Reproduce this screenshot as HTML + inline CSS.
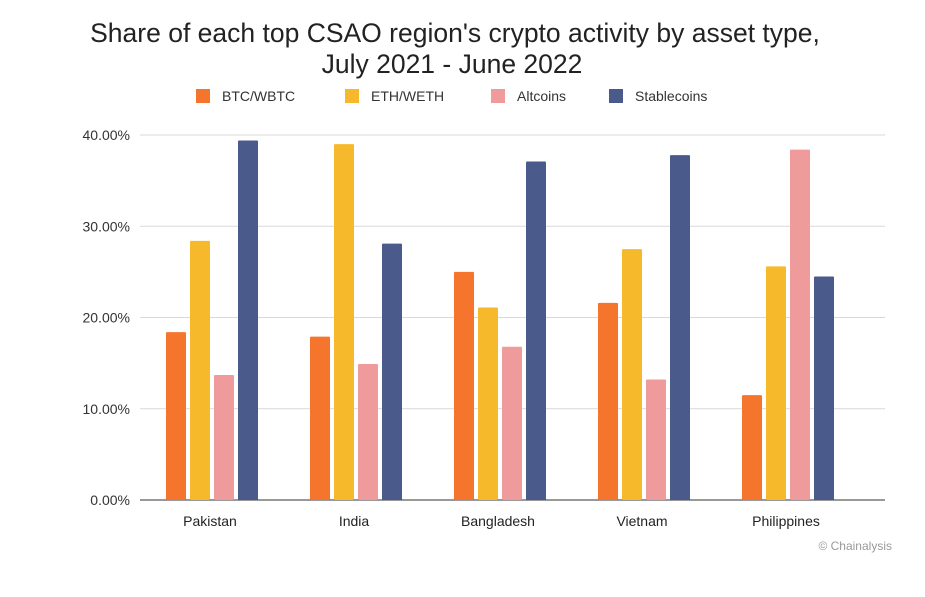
<!DOCTYPE html>
<html><head><meta charset="utf-8"><style>
body{margin:0;background:#fff;font-family:"Liberation Sans",Arial,sans-serif;}
</style></head><body>
<svg width="925" height="592" xmlns="http://www.w3.org/2000/svg" font-family="Liberation Sans, Arial, sans-serif">
<rect width="925" height="592" fill="#fff"/>
<text x="455" y="42" text-anchor="middle" font-size="26.5" fill="#222">Share of each top CSAO region's crypto activity by asset type,</text>
<text x="452" y="73" text-anchor="middle" font-size="26.5" fill="#222">July 2021 - June 2022</text>
<g id="legend"></g>
<g id="grid"></g>
<g id="bars"></g>
<g id="xlabels"></g>
<text x="892" y="550" text-anchor="end" font-size="12" fill="#999">© Chainalysis</text>
</svg>
<script>
const categories=["Pakistan","India","Bangladesh","Vietnam","Philippines"];
const seriesNames=["BTC/WBTC","ETH/WETH","Altcoins","Stablecoins"];
const btc=[18.4,17.9,25.0,21.6,11.5];
const eth=[28.4,39.0,21.1,27.5,25.6];
const alt=[13.7,14.9,16.8,13.2,38.4];
const stable=[39.4,28.1,37.1,37.8,24.5];
const yTicks=[0,10,20,30,40];
const series=[btc,eth,alt,stable];
const colors=["#f4752b","#f6b92b","#ef9b9b","#4a5a8a"];
const NS="http://www.w3.org/2000/svg";
function mk(t,a,p){const e=document.createElementNS(NS,t);for(const k in a)e.setAttribute(k,a[k]);p.appendChild(e);return e;}
const y0=500,pxPer=9.125;
function yS(v){return y0-v*pxPer;}
function xC(i){return 212+i*144;}
const grid=document.getElementById('grid');
yTicks.forEach(t=>{
 const l=mk('line',{x1:140,x2:885,y1:yS(t),y2:yS(t),stroke:t===0?'#333':'#d9d9d9','stroke-width':1},grid);
 
 
 const tx=mk('text',{x:130,y:yS(t)+5,'text-anchor':'end','font-size':14,fill:'#333'},grid);
 tx.textContent=t.toFixed(2)+'%';
 
 
});
const bars=document.getElementById('bars');
series.forEach((s,si)=>{
 s.forEach((v,i)=>{
  const r=mk('rect',{x:xC(i)-46+si*24,y:yS(v),width:20,height:y0-yS(v),fill:colors[si],rx:1},bars);
  
  
 });
});
const xl=document.getElementById('xlabels');
categories.forEach((c,i)=>{
 const t=mk('text',{x:xC(i)-2,y:526,'text-anchor':'middle','font-size':14,fill:'#222'},xl);
 t.textContent=c;
 
 
});
const lg=document.getElementById('legend');
const lx=[196,345,491,609];
seriesNames.forEach((n,i)=>{
 const r=mk('rect',{x:lx[i],y:89,width:14,height:14,fill:colors[i]},lg);
 
 
 const t=mk('text',{x:lx[i]+26,y:101,'font-size':14,fill:'#333'},lg);
 t.textContent=n;
 
 
});
</script>
</body></html>
